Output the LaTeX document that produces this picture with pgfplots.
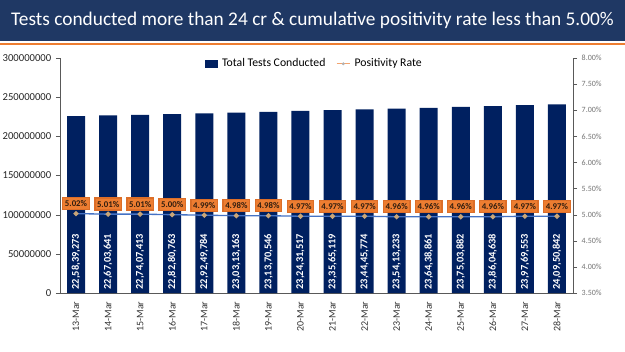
\documentclass[border=0pt]{standalone}
\usepackage{pgfplots}
\pgfplotsset{compat=1.18}
\usepackage{pgfplotstable}
\usepackage{fontspec}
\setmainfont{Carlito}
\definecolor{navy}{RGB}{0,32,96}
\definecolor{banner}{RGB}{31,56,100}
\definecolor{orng}{RGB}{237,125,49}
\definecolor{lblue}{RGB}{68,114,196}
\definecolor{axgray}{RGB}{89,89,89}
\definecolor{dtxt}{RGB}{50,30,15}
\definecolor{mk}{RGB}{200,165,120}

\pgfplotstableread{
x tests lbl
0 225839273 22,58,39,273
1 226703641 22,67,03,641
2 227407413 22,74,07,413
3 228280763 22,82,80,763
4 229249784 22,92,49,784
5 230313163 23,03,13,163
6 231370546 23,13,70,546
7 232431517 23,24,31,517
8 233565119 23,35,65,119
9 234445774 23,44,45,774
10 235413233 23,54,13,233
11 236438861 23,64,38,861
12 237503882 23,75,03,882
13 238604638 23,86,04,638
14 239769553 23,97,69,553
15 240950842 24,09,50,842
}\tests

\pgfplotstableread{
x rate lbl
0 5.02 5.02\%
1 5.01 5.01\%
2 5.01 5.01\%
3 5.00 5.00\%
4 4.99 4.99\%
5 4.98 4.98\%
6 4.98 4.98\%
7 4.97 4.97\%
8 4.97 4.97\%
9 4.97 4.97\%
10 4.96 4.96\%
11 4.96 4.96\%
12 4.96 4.96\%
13 4.96 4.96\%
14 4.97 4.97\%
15 4.97 4.97\%
}\rates

\begin{document}
\begin{tikzpicture}
% banner
\fill[banner] (0,232.5pt) rectangle (468.75pt,263.25pt);
\draw[orng, line width=1.5pt] (0,230.6pt) -- (468.75pt,230.6pt);
\node[white, anchor=center] at (234.4pt,247.8pt) {\resizebox{452pt}{!}{\fontsize{16}{18}\selectfont Tests conducted more than 24 cr \& cumulative positivity rate less than 5.00\%}};

\begin{axis}[
  at={(45pt,43.5pt)}, anchor=south west,
  scale only axis, width=384.75pt, height=176.25pt,
  xmin=-0.5, xmax=15.5, ymin=0, ymax=300000000,
  axis x line*=bottom, axis y line*=left,
  axis line style={axgray},
  xtick={0,...,15},
  xticklabels={13-Mar,14-Mar,15-Mar,16-Mar,17-Mar,18-Mar,19-Mar,20-Mar,21-Mar,22-Mar,23-Mar,24-Mar,25-Mar,26-Mar,27-Mar,28-Mar},
  x tick label style={rotate=90, anchor=east, font=\fontsize{7.5}{8}\selectfont, text=black!80},
  major x tick style={draw=none},
  extra x ticks={-0.5,0.5,...,15.5},
  extra x tick labels={},
  extra x tick style={major tick length=3pt, tick style={draw=axgray}, tick align=outside},
  scaled y ticks=false,
  ytick={0,50000000,100000000,150000000,200000000,250000000,300000000},
  yticklabels={0,50000000,100000000,150000000,200000000,250000000,300000000},
  y tick label style={font=\fontsize{8}{9}\selectfont, text=black!85},
  tick align=outside, major tick length=3pt,
  ytick style={draw=axgray},
  /pgf/number format/assume math mode=true,
]
\addplot[ybar, bar width=13.5pt, fill=navy, draw=none] table[x=x, y=tests] {\tests};
\addplot[only marks, mark=none, point meta=explicit symbolic,
  nodes near coords,
  nodes near coords style={rotate=90, anchor=west, inner sep=2.5pt, text=white, font=\bfseries\fontsize{7.8}{8}\selectfont}]
  table[x=x, y expr=0, meta=lbl] {\tests};
\end{axis}

\begin{axis}[
  at={(45pt,43.5pt)}, anchor=south west,
  scale only axis, width=384.75pt, height=176.25pt,
  xmin=-0.5, xmax=15.5, ymin=3.5, ymax=8.0,
  axis x line=none, axis y line*=right,
  axis line style={axgray},
  ytick={3.5,4.0,...,8.0},
  yticklabel={\pgfmathprintnumber[fixed,fixed zerofill,precision=2]{\tick}\%},
  y tick label style={font=\fontsize{6}{7}\selectfont, text=black!55},
  tick align=outside, major tick length=3pt,
  ytick style={draw=axgray},
  /pgf/number format/assume math mode=true,
  legend style={at={(0.497,1.015)}, anchor=north, draw=none, fill=none, font=\fontsize{8.8}{10}\selectfont, legend columns=2, inner sep=1pt,
    /tikz/every odd column/.style={column sep=1pt},
    /tikz/every even column/.style={column sep=6pt}},
  legend cell align=left,
]
\addlegendimage{legend image code/.code={\fill[navy] (0pt,-2.6pt) rectangle (9pt,2.6pt);}}
\addlegendentry{Total Tests Conducted}
\addlegendimage{legend image code/.code={\draw[orng!70, line width=0.8pt] (0pt,0pt) -- (10pt,0pt); \fill[gray!60] (5pt,0pt) circle (0.9pt);}}
\addlegendentry{Positivity Rate}
\addplot[lblue, line width=1pt, mark=*, mark size=1.4pt, mark options={fill=mk, draw=mk},
  point meta=explicit symbolic, nodes near coords,
  nodes near coords style={anchor=south, yshift=2.5pt, fill=orng, draw={rgb,255:red,220;green,110;blue,40}, inner xsep=1.6pt, inner ysep=2.2pt, text=dtxt, font=\bfseries\fontsize{6.6}{7}\selectfont}]
  table[x=x, y=rate, meta=lbl] {\rates};
\end{axis}
\pgfresetboundingbox
\path[use as bounding box] (0,0) rectangle (468.75pt,263.25pt);
\end{tikzpicture}
\end{document}
